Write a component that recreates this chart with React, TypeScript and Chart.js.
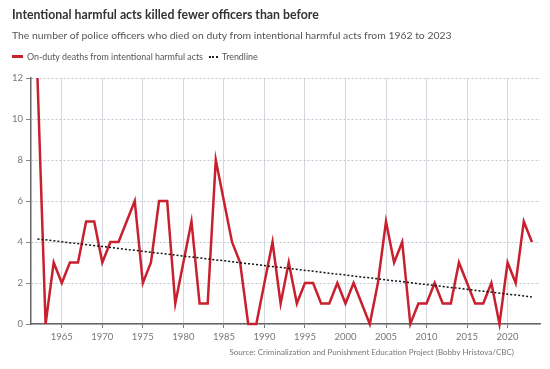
import React, { useEffect, useRef } from "react";
import { Chart, registerables } from "chart.js";

Chart.register(...registerables);

const years: number[] = [
  1962, 1963, 1964, 1965, 1966, 1967, 1968, 1969, 1970, 1971, 1972, 1973, 1974, 1975, 1976, 1977,
  1978, 1979, 1980, 1981, 1982, 1983, 1984, 1985, 1986, 1987, 1988, 1989, 1990, 1991, 1992, 1993,
  1994, 1995, 1996, 1997, 1998, 1999, 2000, 2001, 2002, 2003, 2004, 2005, 2006, 2007, 2008, 2009,
  2010, 2011, 2012, 2013, 2014, 2015, 2016, 2017, 2018, 2019, 2020, 2021, 2022, 2023,
];
const deaths: number[] = [
  12, 0, 3, 2, 3, 3, 5, 5, 3, 4, 4, 5, 6, 2, 3, 6,
  6, 1, 3, 5, 1, 1, 8, 6, 4, 3, 0, 0, 2, 4, 1, 3,
  1, 2, 2, 1, 1, 2, 1, 2, 1, 0, 2, 5, 3, 4, 0, 1,
  1, 2, 1, 1, 3, 2, 1, 1, 2, 0, 3, 2, 5, 4,
];
const trendYears: number[] = [1962, 2023];
const trendValues: number[] = [4.15, 1.32];
const xTicks: number[] = [1965, 1970, 1975, 1980, 1985, 1990, 1995, 2000, 2005, 2010, 2015, 2020];
const yTicks: number[] = [0, 2, 4, 6, 8, 10, 12];

const FONT = "Lato, 'Open Sans', sans-serif";

export default function App() {
  const ref = useRef<HTMLCanvasElement>(null);

  useEffect(() => {
    if (!ref.current) return;
    const chart = new Chart(ref.current, {
      type: "line",
      data: {
        datasets: [
          {
            label: "On-duty deaths from intentional harmful acts",
            data: years.map((y, i) => ({ x: y, y: deaths[i] })),
            borderColor: "#c8202f",
            borderWidth: 2.5,
            pointRadius: 0,
            tension: 0,
            clip: false as any,
            order: 1,
          },
          {
            label: "Trendline",
            data: trendYears.map((y, i) => ({ x: y, y: trendValues[i] })),
            borderColor: "#111111",
            borderWidth: 1.5,
            borderDash: [2, 2],
            pointRadius: 0,
            order: 0,
          },
        ],
      },
      options: {
        animation: false,
        responsive: false,
        maintainAspectRatio: false,
        layout: { padding: { top: 78, right: 10, bottom: 0, left: 0 } },
        plugins: { legend: { display: false }, tooltip: { enabled: false }, title: { display: false } },
        scales: {
          x: {
            type: "linear",
            min: 1961.2,
            max: 2024,
            afterBuildTicks: (scale: any) => {
              scale.ticks = xTicks.map((v) => ({ value: v }));
            },
            afterFit: (scale: any) => {
              scale.height = 45;
            },
            ticks: {
              color: "#777777",
              font: { family: FONT, size: 9.5 },
              padding: 3,
              maxRotation: 0,
              autoSkip: false,
              callback: (v: any) => String(v),
            },
            grid: {
              color: "#d3d9df",
              lineWidth: 1,
              drawTicks: true,
              tickLength: 4,
              tickColor: "#777777",
            },
            border: { display: true, color: "#666666", width: 1.5 },
          },
          y: {
            min: 0,
            max: 12,
            afterBuildTicks: (scale: any) => {
              scale.ticks = yTicks.map((v) => ({ value: v }));
            },
            afterFit: (scale: any) => {
              scale.width = 31;
            },
            ticks: {
              color: "#777777",
              font: { family: FONT, size: 9.5 },
              padding: 3,
            },
            grid: {
              color: "#bcc7d0",
              lineWidth: 1,
              drawTicks: true,
              tickLength: 5,
              tickColor: "#888888",
            },
            border: { display: true, color: "#666666", width: 1.5, dash: [2, 2] as any },
          },
        },
      } as any,
    });
    return () => chart.destroy();
  }, []);

  return (
    <div style={{ position: "fixed", left: 0, top: 0, width: 550, height: 369, background: "#fff", fontFamily: FONT }}>
      <canvas ref={ref} width={550} height={369} style={{ position: "absolute", left: 0, top: 0 }} />
      <div style={{ position: "absolute", left: 12, top: 7, fontSize: 12.3, fontWeight: 700, color: "#333", whiteSpace: "nowrap" }}>
        Intentional harmful acts killed fewer officers than before
      </div>
      <div style={{ position: "absolute", left: 12, top: 29, fontSize: 10.4, color: "#555", whiteSpace: "nowrap" }}>
        The number of police officers who died on duty from intentional harmful acts from 1962 to 2023
      </div>
      <div style={{ position: "absolute", left: 12, top: 51, fontSize: 8.9, color: "#555", display: "flex", alignItems: "center", whiteSpace: "nowrap" }}>
        <span style={{ display: "inline-block", width: 11, height: 2.5, background: "#c8202f", marginRight: 4 }} />
        <span>On-duty deaths from intentional harmful acts</span>
        <span style={{ display: "inline-block", width: 9, height: 0, borderTop: "2px dotted #222", marginLeft: 6, marginRight: 4 }} />
        <span>Trendline</span>
      </div>
      <div style={{ position: "absolute", right: 36, top: 347, fontSize: 8.05, color: "#777", whiteSpace: "nowrap" }}>
        Source: Criminalization and Punishment Education Project (Bobby Hristova/CBC)
      </div>
    </div>
  );
}
